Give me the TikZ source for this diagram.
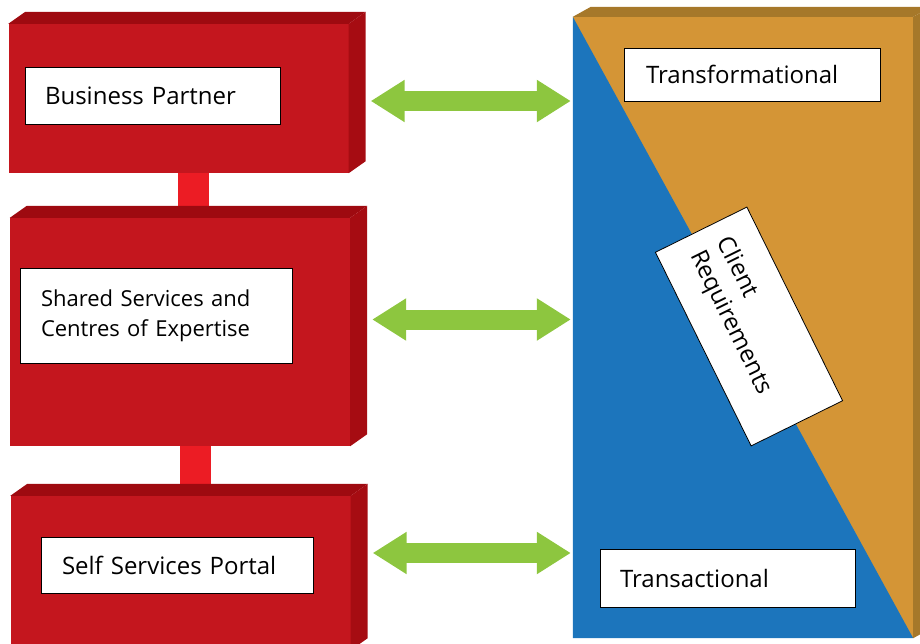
\documentclass[tikz,border=0pt]{standalone}
\usepackage{fontspec}
\setmainfont{Open Sans}
\usetikzlibrary{arrows.meta,calc}

\definecolor{redfront}{RGB}{196,22,30}
\definecolor{redtop}{RGB}{158,10,16}
\definecolor{redside}{RGB}{166,12,18}
\definecolor{stemred}{RGB}{236,28,36}
\definecolor{orangefront}{RGB}{212,149,54}
\definecolor{orangedark}{RGB}{166,120,42}
\definecolor{bluefront}{RGB}{28,117,188}
\definecolor{arrowgreen}{RGB}{141,198,63}

\begin{document}
\begin{tikzpicture}[x=1pt,y=-1pt,
  front/.style={fill=redfront,minimum width=340pt,inner sep=0pt},
  tag/.style={draw=black,line width=0.8pt,fill=white,align=left,inner ysep=0pt,
    font=\fontsize{24}{30}\selectfont},
  link/.style={draw=arrowgreen,line width=20pt,shorten >=2pt,
    {Triangle[length=34pt,width=40pt]}-{Triangle[length=34pt,width=40pt]}},
  stem/.style={draw=stemred,line width=31pt}]
\useasboundingbox (0,0) rectangle (920,643);
\clip (0,0) rectangle (920,643);

% left blocks
\node[front,minimum height=149pt] (bp) at (178.5,98.5) {};
\node[front,minimum height=228pt] (ss) at (180,332) {};
\node[front,minimum height=154pt] (sp) at (180.5,573) {};
\draw[stem] ([xshift=15pt]bp.south) -- ([xshift=15pt]bp.south |- ss.north);
\draw[stem] ([xshift=15pt]ss.south) -- ([xshift=15pt]ss.south |- sp.north);
\foreach \b in {bp,ss,sp} {
  \fill[redtop] (\b.north west) -- ++(17,-12) -- ($(\b.north east)+(17,-12)$) -- (\b.north east) -- cycle;
  \fill[redside] (\b.north east) -- ++(17,-12) -- ($(\b.south east)+(17,-12)$) -- (\b.south east) -- cycle;
}

% right panel
\node[fill=orangefront,minimum width=340pt,minimum height=621pt,inner sep=0pt] (panel) at (743,327.5) {};
\fill[bluefront] (panel.north west) -- (panel.south east) -- (panel.south west) -- cycle;
\fill[orangedark] (panel.north west) -- ++(18,-10) -- ($(panel.north east)+(18,-10)$) -- (panel.north east) -- cycle;
\fill[orangedark] (panel.north east) -- ++(18,-10) -- ($(panel.south east)+(18,-10)$) -- (panel.south east) -- cycle;

% labels
\node[tag,text width=215pt,inner xsep=20pt,minimum height=57pt] (bpt) at (152.5,95.5) {Business Partner};
\node[tag,text width=230pt,inner xsep=21pt,minimum height=95pt,font=\fontsize{22}{30}\selectfont] (sst) at (156,315.5) {Shared Services and\\Centres of Expertise};
\node[tag,text width=230pt,inner xsep=21pt,minimum height=56pt] (spt) at (177,565) {Self Services Portal};
\node[tag,text width=212pt,inner xsep=22pt,minimum height=53pt] (tf) at (752,74.5) {Transformational};
\node[tag,text width=215pt,inner xsep=20pt,minimum height=58pt] (ta) at (727.5,578) {Transactional};
\node[tag,text width=180pt,inner xsep=18pt,minimum height=102pt,rotate=-63.7] (cr) at (749,326.5) {Client\\Requirements};

% arrows
\foreach \b/\dy in {bp/2.5,ss/-12.5,sp/-20}
  \draw[link] ($(\b.east)+(22,\dy)$) -- ($(\b.east -| panel.west)+(0,\dy)$);
\end{tikzpicture}
\end{document}
